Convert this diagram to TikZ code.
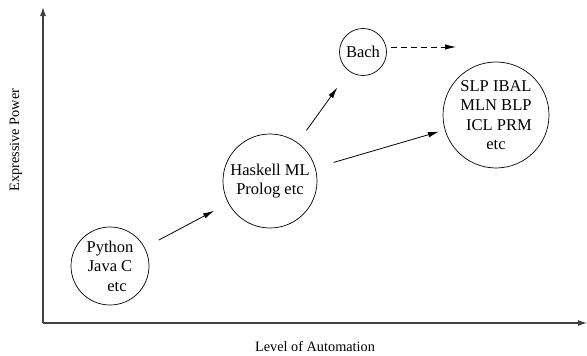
\documentclass[tikz,border=0pt]{standalone}
\usepackage{fontspec}
\setmainfont{Liberation Serif}
\usetikzlibrary{arrows.meta}
\begin{document}
\begin{tikzpicture}[x=1pt,y=-1pt,
  bub/.style={draw,circle,inner sep=0pt,line width=0.7pt,align=center,
    font=\fontsize{16.5}{19.5}\selectfont},
  axis/.style={line width=1.1pt,draw=black!75,-{Latex[length=9pt,width=6pt]}},
  link/.style={line width=0.8pt,-{Latex[length=11pt,width=5.5pt]}},
  axlabel/.style={font=\fontsize{14.3}{16}\selectfont}]
\useasboundingbox (0,0) rectangle (587,356);
\coordinate (orig) at (43,323);
\coordinate (ytop) at (43,7);
\coordinate (xend) at (587,323);
\draw[axis] (orig) -- (ytop);
\draw[axis] (orig) -- (xend);
\node[axlabel] (xl) at (315,347) {Level of Automation};
\node[axlabel,rotate=90] (yl) at (16,140) {Expressive Power};

\node[bub,minimum size=78pt] (py) at (110,266) {Python\\Java C\\\hspace{14pt}etc};
\node[bub,minimum size=94pt] (hs) at (270,181) {Haskell ML\\Prolog etc};
\node[bub,minimum size=47pt] (bach) at (363,52) {Bach};
\node[bub,minimum size=106pt] (slp) at (496,115) {SLP IBAL\\MLN BLP\\\hspace{6pt}ICL PRM\\etc};

\draw[link,shorten <=16pt,shorten >=16pt] (py) -- (hs);
\draw[link,shorten <=15pt,shorten >=20pt] (hs) -- (bach);
\draw[link,shorten <=19pt,shorten >=6pt] (hs) -- (slp);
\coordinate (dend) at (456,47);
\draw[link,dashed,dash pattern=on 6pt off 4pt] ([xshift=4pt,yshift=5pt]bach.east) -- (dend);
\end{tikzpicture}
\end{document}
